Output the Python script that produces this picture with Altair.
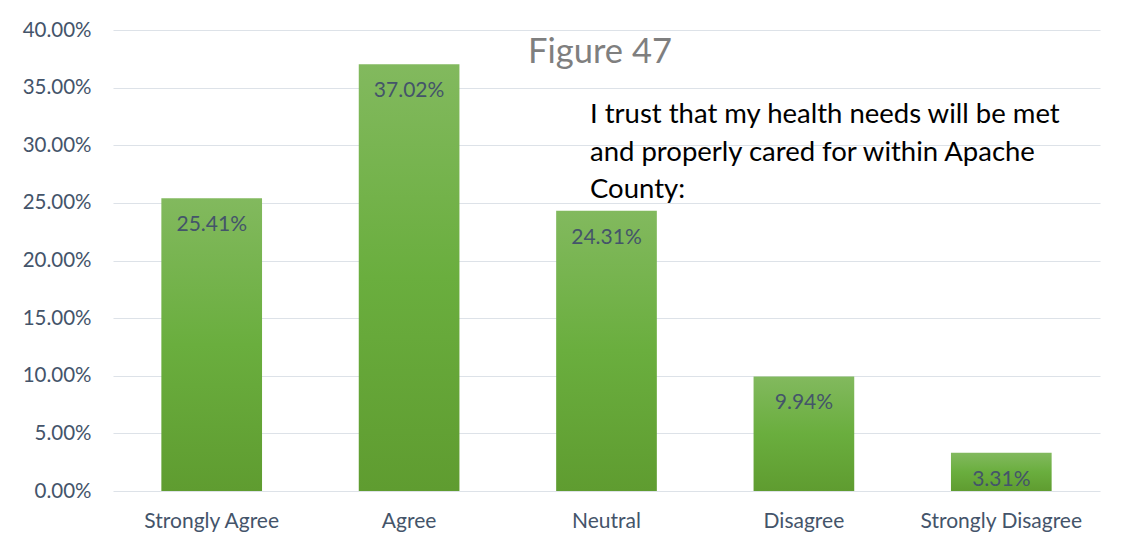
import altair as alt
import pandas as pd

categories = ["Strongly Agree", "Agree", "Neutral", "Disagree", "Strongly Disagree"]
values = [0.2541, 0.3702, 0.2431, 0.0994, 0.0331]
title_text = "Figure 47"
note_lines = ["I trust that my health needs will be met",
              "and properly cared for within Apache",
              "County:"]

df = pd.DataFrame({"cat": categories, "val": values})

FONT = "Lato"
AXC = "#44546a"

grad = alt.Gradient(
    gradient="linear",
    stops=[alt.GradientStop(color="#82b95e", offset=0),
           alt.GradientStop(color="#6aae3e", offset=0.5),
           alt.GradientStop(color="#5f9c30", offset=1)],
    x1=0, x2=0, y1=0, y2=1,
)

x = alt.X("cat:N", sort=categories, title=None,
          scale=alt.Scale(paddingInner=0.49, paddingOuter=0.245),
          axis=alt.Axis(labelAngle=0, labelFont=FONT, labelFontSize=21,
                        labelColor=AXC, ticks=False, domain=False,
                        labelPadding=19))
y = alt.Y("val:Q", title=None,
          scale=alt.Scale(domain=[0, 0.4], nice=False),
          axis=alt.Axis(format=".2%", values=[i * 0.05 for i in range(9)],
                        labelFont=FONT, labelFontSize=20.5, labelColor=AXC,
                        ticks=False, domain=False, labelPadding=22,
                        gridColor="#dde2e8", gridWidth=1.2))

bars = alt.Chart(df).mark_bar(color=grad).encode(x=x, y=y)

labels = alt.Chart(df).mark_text(
    font=FONT, fontSize=21, color="#44546a", baseline="middle", dy=27
).encode(x=alt.X("cat:N", sort=categories), y="val:Q",
         text=alt.Text("val:Q", format=".2%"))

title = alt.Chart(pd.DataFrame({"t": [title_text]})).mark_text(
    font=FONT, fontSize=34.5, color="#7f7f7f", align="center", baseline="middle"
).encode(x=alt.value(487), y=alt.value(23), text="t:N")

note = alt.Chart(pd.DataFrame({"t": [note_lines]})).mark_text(
    font=FONT, fontSize=27.5, color="#000000", align="left", baseline="middle",
    lineHeight=37.5
).encode(x=alt.value(477), y=alt.value(85), text="t")

chart = alt.layer(bars, labels, title, note).properties(
    width=987, height=461,
    autosize=alt.AutoSizeParams(type="none"),
    padding={"left": 105, "top": 22, "right": 21, "bottom": 51},
).configure(background="white").configure_view(stroke=None, strokeWidth=0)

chart.save("out.html", embed_options={"renderer": "svg", "actions": False})
